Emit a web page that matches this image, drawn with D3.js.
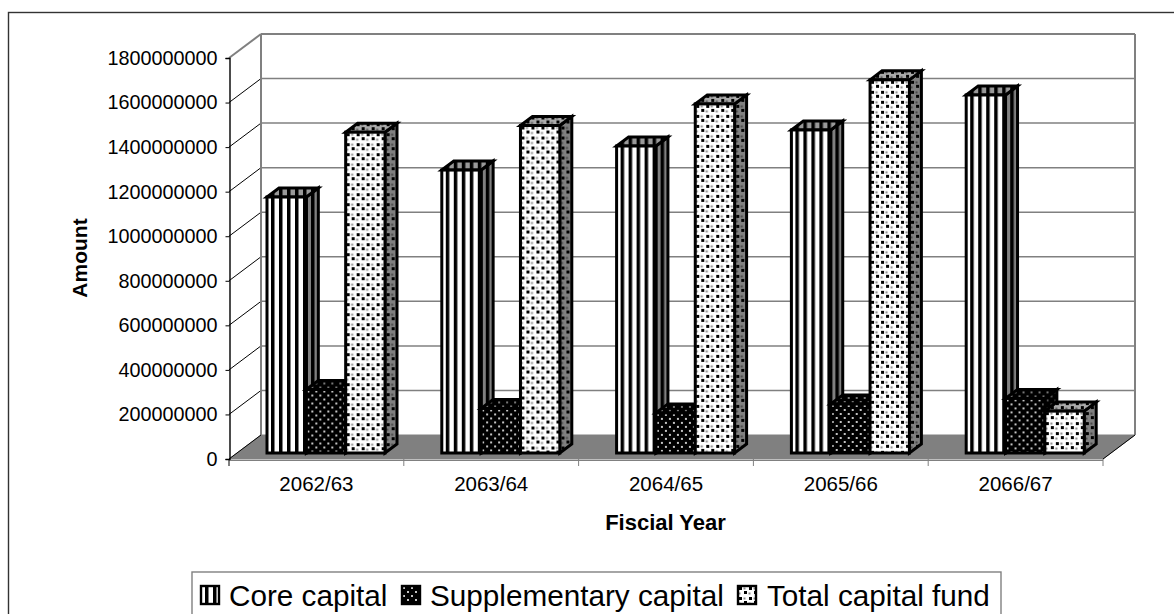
<!DOCTYPE html>
<html><head><meta charset="utf-8">
<script src="https://d3js.org/d3.v7.min.js"></script>
<style>html,body{margin:0;padding:0;background:#fff}svg{display:block}text{font-family:"Liberation Sans",Arial,sans-serif;fill:#000}</style>
</head><body><svg id="c" width="1174" height="614"></svg>
<script>
const categories=["2062/63","2063/64","2064/65","2065/66","2066/67"];
const seriesNames=["Core capital","Supplementary capital","Total capital fund"];
const coreCapital=[1149000000,1270000000,1378000000,1450000000,1607000000];
const supplementaryCapital=[285000000,200000000,180000000,220000000,245000000];
const totalCapitalFund=[1440000000,1470000000,1567000000,1675000000,188000000];
const yTicks=[0,200000000,400000000,600000000,800000000,1000000000,1200000000,1400000000,1600000000,1800000000];

const svg=d3.select("#c");
const defs=svg.append("defs");
function pat(id,size,bg,draw){
  const p=defs.append("pattern").attr("id",id).attr("patternUnits","userSpaceOnUse").attr("width",size).attr("height",size);
  p.append("rect").attr("width",size).attr("height",size).attr("fill",bg);
  draw(p);
}
const sq=(p,x,y,s,c)=>p.append("rect").attr("x",x).attr("y",y).attr("width",s).attr("height",s).attr("fill",c);
function stripes(id,bg,fg,off){pat(id,8,bg,p=>p.append("rect").attr("x",off).attr("width",3.5).attr("height",8).attr("fill",fg));}
function dotsTotal(id,bg,fg,small){pat(id,10,bg,p=>{
  sq(p,1,1,3,fg);sq(p,6,5,3,fg);
  sq(p,5.5,1.5,2,small);sq(p,0.5,6.5,2,small);
});}
function dotsSupp(id,bg,fg){pat(id,8,bg,p=>{sq(p,1,1,2,fg);sq(p,5,5,2,fg);});}
stripes("p0f","#fff","#000",4);stripes("p0t","#999","#000",4);stripes("p0s","#808080","#000",4);
dotsSupp("p1f","#000","#c4c4c4");dotsSupp("p1t","#000","#777");dotsSupp("p1s","#000","#555");
dotsTotal("p2f","#fff","#000","#888");dotsTotal("p2t","#aaa","#000","#555");dotsTotal("p2s","#808080","#000","#444");

// chart frame
svg.append("rect").attr("x",8.5).attr("y",12.5).attr("width",1180).attr("height",640).attr("fill","#fff").attr("stroke","#333").attr("stroke-width",1.4);

const dx=32,dy=-24;
const x0=229,x1=1103;
const y=d3.scaleLinear().domain([0,1800000000]).range([459,58]);
const x=d3.scaleBand().domain(categories).range([x0,x1]);
const inner=d3.scaleBand().domain([0,1,2]).range([0,118]);
const grey="#808080";

const ln=(a,b,c,d,col,w)=>svg.append("line").attr("x1",a).attr("y1",b).attr("x2",c).attr("y2",d).attr("stroke",col).attr("stroke-width",w);
// floor
svg.append("polygon").attr("points",[[x0,y(0)],[x1,y(0)],[x1+dx,y(0)+dy],[x0+dx,y(0)+dy]].join(" ")).attr("fill",grey).attr("stroke",grey);
// gridlines on back and side wall
yTicks.forEach((t,i)=>{
  if(i===0)return;
  const top=i===yTicks.length-1;
  ln(x0,y(t),x0+dx,y(t)+dy,top?grey:"#000",top?2:1);
  ln(x0+dx,y(t)+dy,x1+dx,y(t)+dy,grey,top?2:1.5);
});
ln(x0+dx,y(0)+dy,x0+dx,y(1800000000)+dy,grey,2);
ln(x1+dx,y(0)+dy,x1+dx,y(1800000000)+dy,grey,2);
ln(x0,y(0),x0+dx,y(0)+dy,"#000",1);
ln(x1,y(0),x1+dx,y(0)+dy,"#000",1);

// axes
const yAxis=d3.axisLeft(y).tickValues(yTicks).tickFormat(d3.format("d")).tickSize(4).tickPadding(8);
const ga=svg.append("g").attr("transform",`translate(${x0+.5},0)`).call(yAxis);
ga.selectAll("text").style("font-size","19.8px").style("font-family",'"Liberation Sans",Arial,sans-serif');
ga.selectAll("line").attr("stroke","#000");
ga.select(".domain").attr("stroke","#000").attr("stroke-width",1.4);
const xAxis=d3.axisBottom(x).tickSize(0).tickPadding(17);
const gx=svg.append("g").attr("transform",`translate(0,${y(0)+.5})`).call(xAxis);
gx.select(".domain").attr("stroke",grey).attr("d",`M${x0},1H${x1}`);
gx.selectAll("text").style("font-size","20.5px").style("font-family",'"Liberation Sans",Arial,sans-serif');
d3.range(6).forEach(i=>{const px=x0+i*x.bandwidth();ln(px,y(0),px,y(0)+7,i===0?"#000":grey,1);});

// bars: each drawn in its own local frame so the fill patterns start at the bar's corner
const barDx=12,barDy=-9,barBase=y(0)-6,barOff=38;
const series=[coreCapital,supplementaryCapital,totalCapitalFund];
function bar(cx,w,top,s){
  const h=barBase-top;
  const g=svg.append("g").attr("transform",`translate(${cx},${top})`).attr("stroke","#000").attr("stroke-width",3).attr("stroke-linejoin","miter");
  g.append("polygon").attr("points",[[w,0],[w+barDx,barDy],[w+barDx,h+barDy],[w,h]].join(" ")).attr("fill",`url(#p${s}s)`);
  g.append("polygon").attr("points",[[0,0],[barDx,barDy],[w+barDx,barDy],[w,0]].join(" ")).attr("fill",`url(#p${s}t)`);
  g.append("rect").attr("width",w).attr("height",h).attr("fill",`url(#p${s}f)`);
}
categories.forEach((c,i)=>{
  series.forEach((vals,s)=>{
    const top=y(vals[i])-6;
    bar(x(c)+barOff+inner(s),inner.bandwidth(),top,s);
  });
});

// axis titles
svg.append("text").attr("x",665.5).attr("y",530).attr("text-anchor","middle").style("font-size","22px").style("font-weight","bold").text("Fiscial Year");
svg.append("text").attr("transform","translate(87,258) rotate(-90)").attr("text-anchor","middle").style("font-size","21px").style("font-weight","bold").text("Amount");

// legend
svg.append("rect").attr("x",192).attr("y",572).attr("width",809).attr("height",60).attr("fill","#fff").attr("stroke",grey).attr("stroke-width",1.4);
const legendX=[201,402,738],textX=[229,430,767];
seriesNames.forEach((n,i)=>{
  svg.append("g").attr("transform",`translate(${legendX[i]},586)`).append("rect").attr("width",18).attr("height",18).attr("fill",`url(#p${i}f)`).attr("stroke","#000").attr("stroke-width",2.4);
  svg.append("text").attr("x",textX[i]).attr("y",606).style("font-size","29.7px").text(n);
});
</script></body></html>
